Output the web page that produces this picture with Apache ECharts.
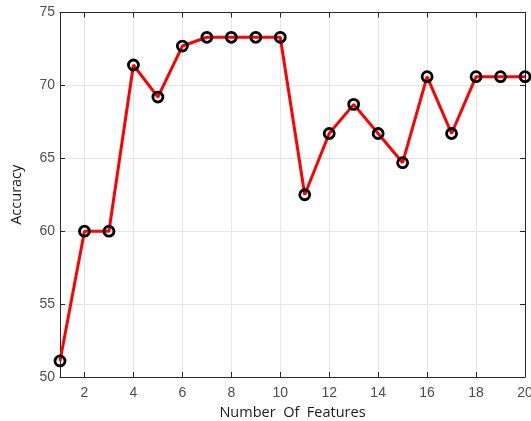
<!DOCTYPE html>
<html><head><meta charset="utf-8">
<script src="https://cdn.jsdelivr.net/npm/echarts@6/dist/echarts.min.js"></script>
<style>html,body{margin:0;padding:0;background:#fff}#c{width:531px;height:421px}</style>
</head><body><div id="c"></div>
<script>
const features = [1,2,3,4,5,6,7,8,9,10,11,12,13,14,15,16,17,18,19,20];
const accuracy = [51.1,60,60,71.4,69.2,72.7,73.3,73.3,73.3,73.3,62.5,66.7,68.7,66.7,64.7,70.6,66.7,70.6,70.6,70.6];
const xTicks = [2,4,6,8,10,12,14,16,18,20];
const yTicks = [50,55,60,65,70,75];

const chart = echarts.init(document.getElementById('c'), null, {renderer:'canvas'});
const axisColor = '#262626';
const labelColor = '#4d4d4d';
const font = 'Liberation Sans, Arial, sans-serif';
const nameFont = 'Open Sans, sans-serif';
chart.setOption({
  animation:false,
  grid:{left:60,right:6,top:12.5,bottom:44,containLabel:false,outerBoundsMode:'none'},
  xAxis:[{
    type:'value',min:1,max:20,
    name:'Number  Of  Features',nameLocation:'middle',nameGap:24,
    nameTextStyle:{color:'#1a1a1a',fontSize:14.5,fontFamily:nameFont},
    axisLine:{show:true,lineStyle:{color:axisColor,width:1}},
    axisTick:{show:true,inside:true,length:5,customValues:xTicks,lineStyle:{color:axisColor}},
    axisLabel:{color:labelColor,fontSize:14,fontFamily:font,margin:9,customValues:xTicks},
    splitLine:{show:true,lineStyle:{color:'#e6e6e6',width:1}}
  },{
    type:'value',min:1,max:20,position:'top',
    axisLine:{show:true,onZero:false,lineStyle:{color:axisColor,width:1}},
    axisTick:{show:true,inside:true,length:5,customValues:xTicks,lineStyle:{color:axisColor}},
    axisLabel:{show:false},splitLine:{show:false}
  }],
  yAxis:[{
    type:'value',min:50,max:75,interval:5,
    name:'Accuracy',nameLocation:'middle',nameGap:36,
    nameTextStyle:{color:'#1a1a1a',fontSize:14.5,fontFamily:nameFont},
    axisLine:{show:true,lineStyle:{color:axisColor,width:1}},
    axisTick:{show:true,inside:true,length:5,lineStyle:{color:axisColor}},
    axisLabel:{color:labelColor,fontSize:14,fontFamily:font,margin:5},
    splitLine:{show:true,lineStyle:{color:'#e6e6e6',width:1}}
  },{
    type:'value',min:50,max:75,interval:5,position:'right',
    axisLine:{show:true,onZero:false,lineStyle:{color:axisColor,width:1}},
    axisTick:{show:true,inside:true,length:5,lineStyle:{color:axisColor}},
    axisLabel:{show:false},splitLine:{show:false}
  }],
  series:[{
    type:'line',
    data:features.map((f,i)=>[f,accuracy[i]]),
    lineStyle:{color:'#ff0000',width:3},
    symbol:'circle',symbolSize:10,
    itemStyle:{color:'rgba(255,0,0,0)',borderColor:'#000',borderWidth:2.8},
    emphasis:{disabled:true},
    clip:false,z:3
  }]
});
</script></body></html>
